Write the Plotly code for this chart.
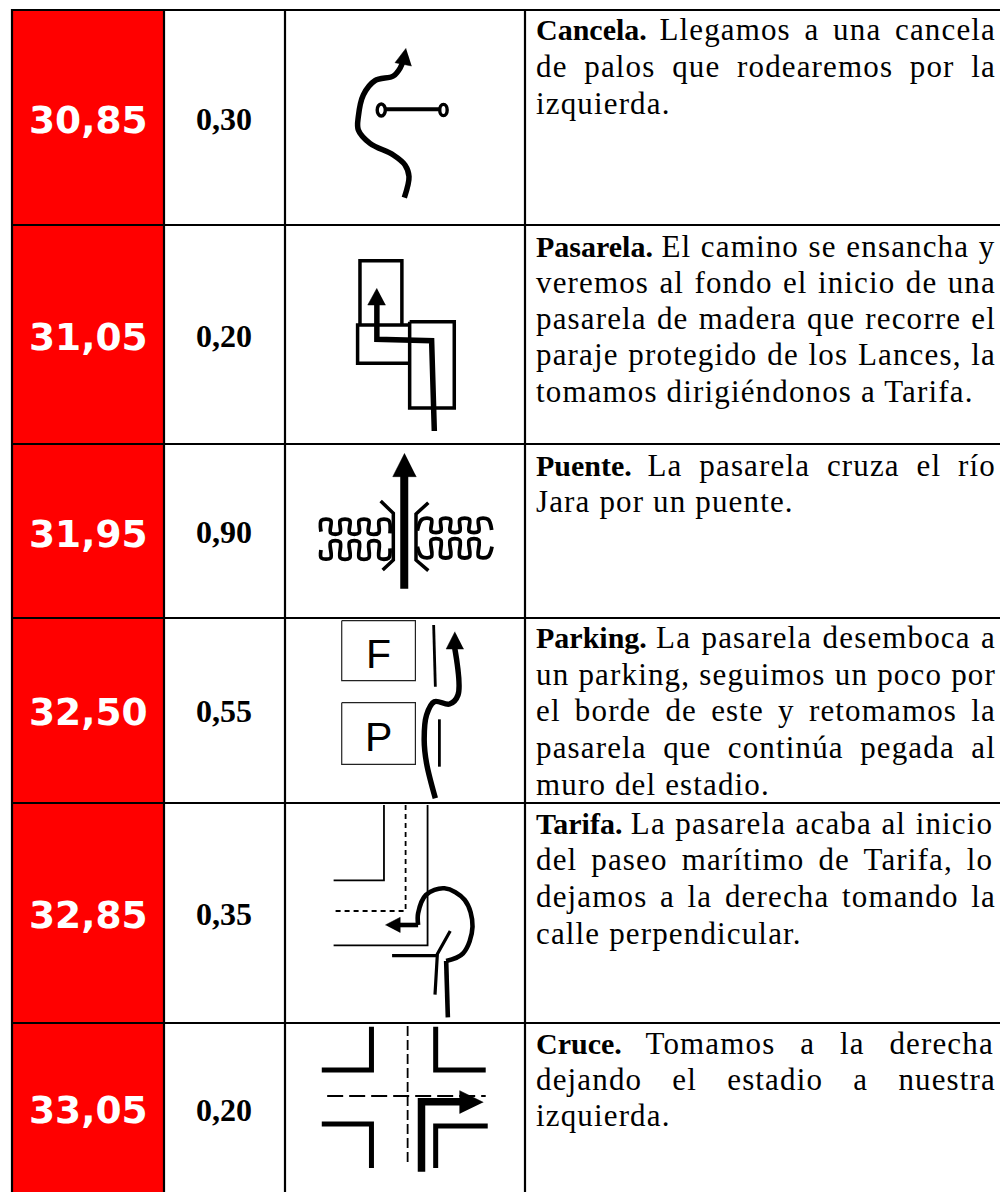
import plotly.graph_objects as go

KM = ["30,85", "31,05", "31,95", "32,50", "32,85", "33,05"]
PARTIAL = ["0,30", "0,20", "0,90", "0,55", "0,35", "0,20"]
TITLES = ["Cancela.", "Pasarela.", "Puente.", "Parking.", "Tarifa.", "Cruce."]
LINES = [
    ["Llegamos a una cancela", "de palos que rodearemos por la", "izquierda."],
    ["El camino se ensancha y", "veremos al fondo el inicio de una",
     "pasarela de madera que recorre el", "paraje protegido de los Lances, la",
     "tomamos dirigiéndonos a Tarifa."],
    ["La pasarela cruza el río", "Jara por un puente."],
    ["La pasarela desemboca a", "un parking, seguimos un poco por",
     "el borde de este y retomamos la", "pasarela que continúa pegada al",
     "muro del estadio."],
    ["La pasarela acaba al inicio", "del paseo marítimo de Tarifa, lo",
     "dejamos a la derecha tomando la", "calle perpendicular."],
    ["Tomamos a la derecha", "dejando el estadio a nuestra", "izquierda."],
]
BASELINES = [
    [38, 75, 112],
    [255, 291, 327, 363, 400],
    [474, 510],
    [646, 683, 719, 756, 793],
    [832, 868, 905, 942],
    [1052, 1088, 1124],
]
ROW_LINES = [10, 225, 444, 618, 803, 1023]
COL_LINES = [12, 164, 285, 525]
KM_Y = [120, 337, 534, 712, 915, 1110]
PARTIAL_Y = [119, 336, 532, 711, 914, 1110]

REG = dict(a=444,b=500,c=444,d=500,e=444,f=333,g=500,h=500,i=278,j=278,k=500,l=278,m=778,n=500,o=500,p=500,
           q=500,r=333,s=389,t=278,u=500,v=500,w=722,x=500,y=500,z=444,C=667,E=611,J=389,L=611,T=611)
REG.update({" ":250, ".":250, ",":250, "á":444, "é":444, "í":278, "ó":500, "ú":500})
BOLD = dict(a=500,b=556,c=444,d=556,e=444,f=333,g=500,h=556,i=278,j=333,k=556,l=278,m=833,n=556,o=500,p=556,
            q=556,r=444,s=389,t=333,u=556,v=500,w=722,x=500,y=500,z=444,C=722,P=611,T=667)
BOLD.update({" ":250, ".":250})

FS = 31
BS = 30
LS = 1.15
TEXT_W = 460
SERIF = "Liberation Serif"

def text_markup(title, line, justify):
    n_reg = sum(REG[c] for c in line) * FS / 1000 + LS * len(line)
    n_spaces = line.count(" ")
    if title:
        natural = n_reg + sum(BOLD[c] for c in title) * BS / 1000 + FS * .25
        n_spaces += 1
    else:
        natural = n_reg
    ws = (TEXT_W - natural) / n_spaces if justify and n_spaces else 0
    reg = f'<span style="letter-spacing:{LS}px">{line}</span>'
    body = f'<span style="font-size:{BS}px"><b>{title}</b></span> {reg}' if title else reg
    return f'<span style="word-spacing:{ws:.2f}px">{body}</span>'

fig = go.Figure()
shapes, annots = [], []

shapes.append(dict(type="rect", x0=COL_LINES[0], x1=COL_LINES[1], y0=ROW_LINES[0], y1=1192,
                   fillcolor="#ff0000", line_width=0, layer="below"))
for x in COL_LINES:
    shapes.append(dict(type="line", x0=x, x1=x, y0=ROW_LINES[0]-1, y1=1192, line=dict(color="black", width=2.2)))
for y in ROW_LINES:
    shapes.append(dict(type="line", x0=COL_LINES[0], x1=1000, y0=y, y1=y, line=dict(color="black", width=2.2)))

for i, (k, p) in enumerate(zip(KM, PARTIAL)):
    annots.append(dict(x=88.5, y=KM_Y[i], text=f"<b>{k}</b>", showarrow=False,
                       font=dict(family="DejaVu Sans", size=37.5, color="white")))
    annots.append(dict(x=224, y=PARTIAL_Y[i], text=f"<b>{p}</b>", showarrow=False,
                       font=dict(family=SERIF, size=32, color="black")))
    for j, (line, b) in enumerate(zip(LINES[i], BASELINES[i])):
        justify = j < len(LINES[i]) - 1
        annots.append(dict(x=534.5, y=b - 8.5, xanchor="left", yanchor="middle", borderpad=0,
                           text=text_markup(TITLES[i] if j == 0 else "", line, justify),
                           showarrow=False, align="left",
                           font=dict(family=SERIF, size=FS, color="black")))

SX = 0.338
ZERO = [0, 0, 440, 440, 800, 800]

def xy(pts, off):
    return [p[0] * SX for p in pts], [off + p[1] / 3 for p in pts]

def stroke(pts, off, w, dash=None, smooth=False, color="black"):
    x, y = xy(pts, off)
    line = dict(color=color, width=w, shape="spline" if smooth else "linear")
    if smooth:
        line["smoothing"] = smooth if smooth is not True else 1.0
    if dash:
        line["dash"] = dash
    fig.add_trace(go.Scatter(x=x, y=y, mode="lines", line=line, hoverinfo="skip", showlegend=False))

def solid(pts, off):
    x, y = xy(pts, off)
    fig.add_trace(go.Scatter(x=x, y=y, mode="lines", fill="toself", fillcolor="black",
                             line=dict(color="black", width=0.5), hoverinfo="skip", showlegend=False))

def ellipse(cx, cy, rx, ry, off, w):
    shapes.append(dict(type="circle", x0=(cx-rx)*SX, x1=(cx+rx)*SX, y0=off+(cy-ry)/3, y1=off+(cy+ry)/3,
                       fillcolor="white", line=dict(color="black", width=w), layer="above"))

# 1: Cancela
o = 0
def crop1(pts):
    return [((340 + a / 3) / SX, (40 + b / 3) * 3) for a, b in pts]
stroke(crop1([(122,208),(308,208)]), o, 4)
ellipse(1128,330,12,18,o,3.4)
ellipse(1312,330,11,17,o,3.4)
stroke(crop1([(193,473),(207,410),(195,375),(160,345),(90,310),(55,270),(55,230),(70,165),(105,122),(160,108),
              (180,85),(190,60)]), o, 5.5, smooth=True)
solid(crop1([(198,25),(165,68),(215,78)]), o)

# 2: Pasarela
o = ZERO[1]
stroke([(1065,975),(1065,782),(1189,782),(1189,975)], o, 3.5)
stroke([(1212,975),(1058,975),(1058,1090),(1212,1090)], o, 3.5)
stroke([(1212,965),(1344,965),(1344,1224),(1212,1224),(1212,965)], o, 3.5)
stroke([(1285,1293),(1277,1022),(1115,1018),(1115,912)], o, 5.5)
solid([(1115,865),(1088,915),(1141,915)], o)

# 3: Puente
o = ZERO[2]
stroke([(1196,446),(1196,108)], o, 8)
solid([(1197,40),(1162,110),(1232,110)], o)
def crop3(pts):
    return [((310 + a / 3) / SX, 150 + b) for a, b in pts]
stroke(crop3([(212,33),(250,70),(250,210),(218,240)]), o, 3.5)
stroke(crop3([(355,38),(318,72),(318,210),(355,242)]), o, 3.5)
stroke(crop3([(33,125),(34,91),(62,91),(62,129),(90,129),(91,91),(119,91),(119,129),(147,129),(148,91),(176,91),
              (176,129),(206,129),(208,91),(236,91),(240,130)]), o, 3.8, smooth=1.0)
stroke(crop3([(33,180),(34,204),(62,204),(62,156),(90,156),(91,204),(119,204),(119,156),(147,156),(148,204),(176,204),
              (178,156),(206,156),(208,204),(236,204),(240,175)]), o, 3.8, smooth=1.0)
stroke(crop3([(322,122),(336,88),(364,88),(364,124),(392,124),(393,88),(421,88),(421,124),(449,124),(450,88),(478,88),
              (478,124),(506,124),(506,88),(534,88),(545,120)]), o, 3.8, smooth=1.0)
stroke(crop3([(322,170),(336,200),(364,200),(364,150),(392,150),(393,200),(421,200),(421,150),(449,150),(450,200),
              (478,200),(478,150),(506,150),(506,200),(534,200),(546,170)]), o, 3.8, smooth=1.0)

# 4: Parking
o = ZERO[3]
for y0, y1, t in [(542, 722, "F"), (788, 973, "P")]:
    stroke([(1011,y0),(1229,y0),(1229,y1),(1011,y1),(1011,y0)], o, 1.2, color="#222222")
    annots.append(dict(x=1119*SX, y=o+(y0+y1)/6+3, text=t, showarrow=False,
                       font=dict(family="Liberation Sans", size=41, color="black")))
stroke([(1283,555),(1288,740)], o, 2.8)
stroke([(1300,838),(1300,980)], o, 2.8)
stroke([(1288,1075),(1262,970),(1255,900),(1262,825),(1285,785),(1330,792),(1355,765),(1345,622)], o, 5.5, smooth=True)
solid([(1346,575),(1320,627),(1372,627)], o)

# 5: Tarifa
o = ZERO[4]
stroke([(1136,15),(1136,241),(987,241)], o, 1.8)
stroke([(1265,15),(1265,436),(987,436)], o, 1.8)
stroke([(1200,15),(1200,333),(987,333)], o, 1.8, dash="5px,4px")
stroke([(1325,652),(1320,483)], o, 4.6)
stroke([(1320,483),(1370,460),(1398,380),(1375,300),(1315,265),(1260,285),(1237,340),(1237,375)], o, 4.6, smooth=True)
stroke([(1237,375),(1180,375)], o, 4.6)
solid([(1140,375),(1184,352),(1184,398)], o)
stroke([(1160,467),(1292,467)], o, 3.2)
stroke([(1287,584),(1294,462),(1332,393)], o, 3.2)

# 6: Cruce
o = ZERO[5]
stroke([(1099,680),(1099,810),(952,810)], o, 5)
stroke([(1289,680),(1289,810),(1437,810)], o, 5)
stroke([(952,972),(1099,972),(1099,1104)], o, 5)
stroke([(1443,978),(1289,978),(1289,1104)], o, 5)
stroke([(1206,678),(1206,1098)], o, 1.8, dash="10px,4px")
stroke([(968,888),(1437,888)], o, 1.8, dash="16px,6px")
stroke([(1247,1115),(1247,905),(1365,905)], o, 7.5)
solid([(1430,907),(1360,872),(1360,941)], o)

fig.update_layout(
    width=1000, height=1192, margin=dict(l=0, r=0, t=0, b=0),
    paper_bgcolor="white", plot_bgcolor="white", showlegend=False,
    xaxis=dict(range=[0, 1000], visible=False, fixedrange=True),
    yaxis=dict(range=[1192, 0], visible=False, fixedrange=True),
    shapes=shapes, annotations=annots,
)
fig.write_html("out.html", config={"displayModeBar": False},
               post_script="document.body.style.margin='0';document.querySelectorAll('.js-line').forEach(p=>p.style.strokeLinejoin='miter');")
